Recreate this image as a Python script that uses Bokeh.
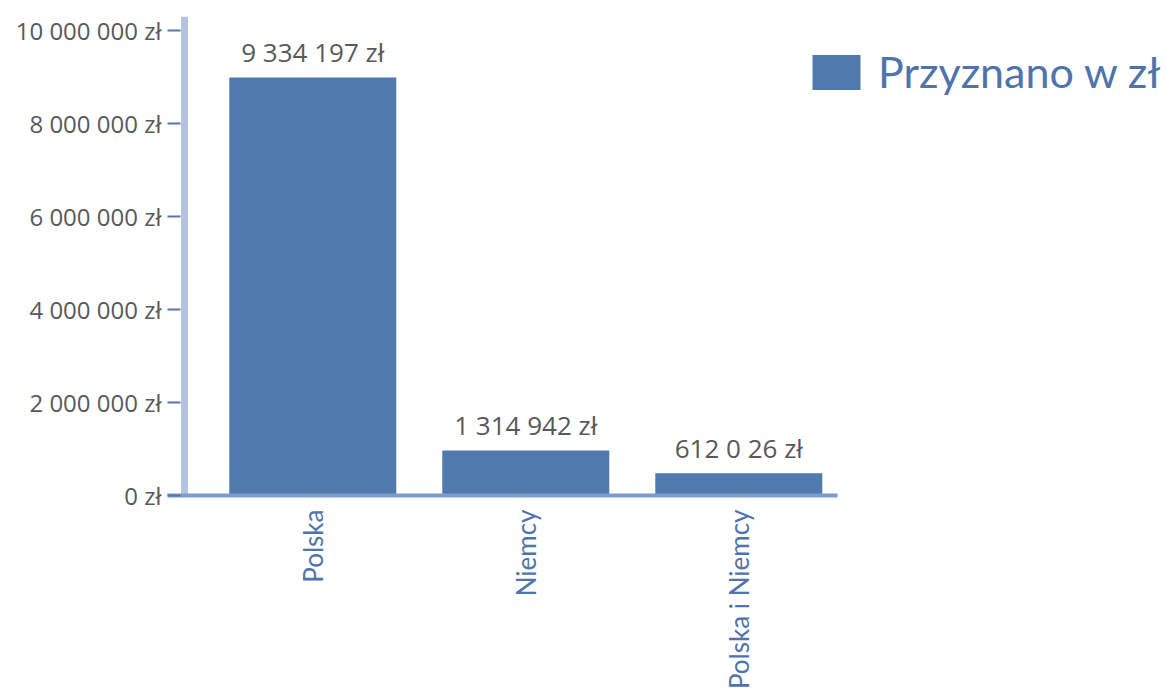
import math
from bokeh.plotting import figure
from bokeh.models import (ColumnDataSource, Range1d, FixedTicker, Span, LabelSet,
                          Legend, LegendItem)
from bokeh.core.properties import value
from bokeh.embed import file_html
from bokeh.resources import INLINE

# ---- data ----
categories = ["Polska", "Niemcy", "Polska i Niemcy"]
bar_values = [8_990_000, 968_000, 480_000]          # bar heights as drawn
value_labels = ["9 334 197 zł", "1 314 942 zł", "612 0 26 zł"]
y_ticks = [0, 2_000_000, 4_000_000, 6_000_000, 8_000_000, 10_000_000]
y_tick_labels = ["0 zł", "2 000 000 zł", "4 000 000 zł", "6 000 000 zł",
                 "8 000 000 zł", "10 000 000 zł"]
series_name = "Przyznano w zł"

BAR = "#5079AD"
GRAY = "#595959"
BLUE_TXT = "#4F74AB"

xs = list(range(len(categories)))
src = ColumnDataSource(dict(x=xs, top=bar_values, lab=value_labels, cat=categories))

p = figure(width=1166, height=693, output_backend="svg", toolbar_location=None,
           x_range=Range1d(-0.682, 4.008), y_range=Range1d(0, 10_300_000),
           min_border_left=167, min_border_right=0, min_border_top=16,
           min_border_bottom=198)
p.outline_line_color = None
p.grid.grid_line_color = None
p.background_fill_color = "white"

r = p.vbar(x="x", top="top", bottom=0, width=0.784, source=src,
           fill_color=BAR, line_color=None)

# value labels
p.add_layout(LabelSet(x="x", y="top", text="lab", source=src, y_offset=15,
                      text_align="center", text_baseline="alphabetic",
                      text_font=value("Open Sans"), text_font_size="26px",
                      text_color=GRAY))

# y axis
ya = p.yaxis[0]
ya.ticker = FixedTicker(ticks=y_ticks)
ya.major_label_overrides = {t: l for t, l in zip(y_ticks, y_tick_labels)}
ya.axis_line_color = None
ya.major_tick_in = 13
ya.major_tick_out = 0
ya.major_tick_line_color = BAR
ya.major_tick_line_width = 2
ya.minor_tick_line_color = None
ya.major_label_standoff = 6
ya.major_label_text_font = "Open Sans"
ya.major_label_text_font_size = "24px"
ya.major_label_text_color = GRAY

# vertical axis bar
p.add_layout(Span(location=-0.602, dimension="height", line_color="#B4C3DF",
                  line_width=7, level="underlay"))

# x axis
xa = p.xaxis[0]
xa.ticker = FixedTicker(ticks=xs)
xa.bounds = (-0.682, 2.463)
xa.major_label_overrides = {i: c for i, c in zip(xs, categories)}
xa.axis_line_color = "#7E9CC9"
xa.axis_line_width = 4
xa.major_tick_line_color = None
xa.major_tick_out = 0
xa.major_tick_in = 0
xa.minor_tick_line_color = None
xa.major_label_orientation = math.pi / 2
xa.major_label_standoff = 14
xa.major_label_text_font = "Lato"
xa.major_label_text_font_size = "26px"
xa.major_label_text_color = BLUE_TXT

# legend
legend = Legend(items=[LegendItem(label=series_name, renderers=[r])],
                location=(639, 398), glyph_width=60, glyph_height=44,
                label_standoff=12, label_text_font="Lato",
                label_text_font_size="43px", label_text_color=BLUE_TXT,
                border_line_alpha=0, background_fill_alpha=0, padding=0,
                margin=0, spacing=0)
p.add_layout(legend)

open("out.html", "w").write(file_html(p, INLINE))
